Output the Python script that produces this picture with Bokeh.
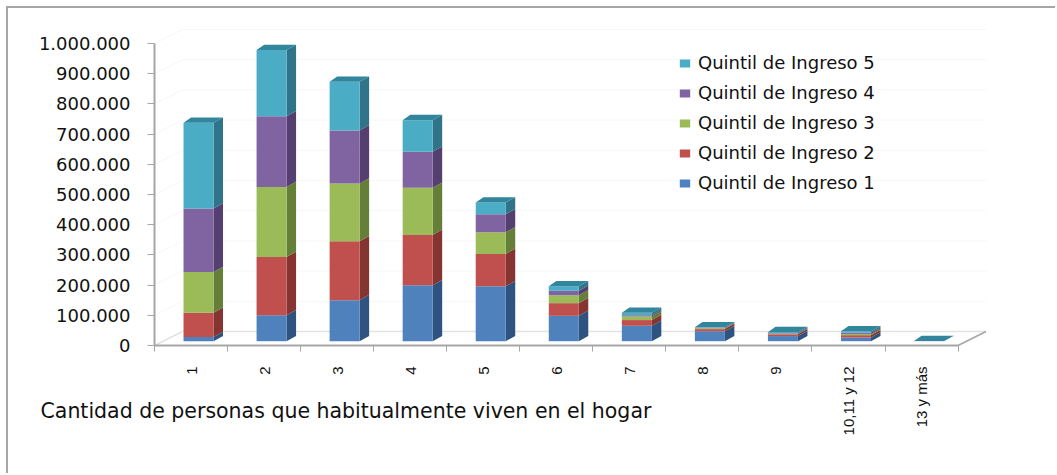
from math import pi
from bokeh.embed import file_html
from bokeh.resources import INLINE
from bokeh.plotting import figure
from bokeh.models import (Range1d, FixedTicker, Legend, LegendItem, Label, LinearAxis)

categories = ["1", "2", "3", "4", "5", "6", "7", "8", "9", "10,11 y 12", "13 y más"]
quintil_1 = [14000, 86000, 136000, 185000, 182000, 84000, 51000, 33000, 17000, 12000, 300]
quintil_2 = [80000, 193000, 195000, 167000, 107000, 42000, 19000, 7000, 6000, 8000, 200]
quintil_3 = [135000, 232000, 191000, 156000, 72000, 26000, 12000, 3000, 1000, 4000, 100]
quintil_4 = [210000, 234000, 176000, 119000, 59000, 15000, 4000, 2000, 2000, 4000, 100]
quintil_5 = [284000, 219000, 161000, 105000, 39000, 15000, 8000, 1000, 4000, 5000, 100]
series_names = ["Quintil de Ingreso 1", "Quintil de Ingreso 2", "Quintil de Ingreso 3",
                "Quintil de Ingreso 4", "Quintil de Ingreso 5"]
series = [quintil_1, quintil_2, quintil_3, quintil_4, quintil_5]
front_colors = ["#4F81BD", "#C0504D", "#9BBB59", "#8064A2", "#4BACC6"]
side_colors = ["#2F5380", "#863432", "#667F38", "#543F70", "#2F7489"]
top_color = "#31859C"
y_ticks = list(range(0, 1000001, 100000))
y_labels = ["0", "100.000", "200.000", "300.000", "400.000", "500.000",
            "600.000", "700.000", "800.000", "900.000", "1.000.000"]

PX_X = 1 / 73.05       # data units per horizontal pixel
PX_Y = 100000 / 30.2   # data units per vertical pixel
BAR_W = 30 * PX_X
BAR_OFF = 7.5 * PX_X
BAR_BASE = 4.3 * PX_Y
BAR_DX = 9.5 * PX_X
BAR_DY = 5.3 * PX_Y
WALL_DX = 28 * PX_X
WALL_DY = 14 * PX_Y
N = len(categories)

p = figure(width=1049, height=467, output_backend="svg", toolbar_location=None,
           x_range=Range1d(-146 * PX_X, 903 * PX_X), y_range=Range1d(-130 * PX_Y, 337 * PX_Y),
           x_axis_type=None, y_axis_type=None,
           min_border=0,
           outline_line_color=None, background_fill_color="white", border_fill_color="white",
           styles={"position": "absolute", "left": "6px", "top": "6px",
                   "border-left": "2px solid #a6a6a6", "border-top": "2px solid #a6a6a6"})
p.grid.visible = False

# faint walls and floor of the 3D box
wall_x, wall_y = [], []
for t in y_ticks[1:]:
    wall_x += [[0, WALL_DX], [WALL_DX, N + WALL_DX]]
    wall_y += [[t, t + WALL_DY], [t + WALL_DY, t + WALL_DY]]
p.multi_line(wall_x, wall_y, line_color="#f7f7f7", line_width=1)
p.multi_line([[0, WALL_DX], [WALL_DX, N + WALL_DX]], [[0, WALL_DY], [WALL_DY, WALL_DY]],
             line_color="#e2e2e2", line_width=1.5)
p.line([N, N + WALL_DX], [0, WALL_DY], line_color="#a6a6a6", line_width=1.5)

legend_items = []
bottoms = [BAR_BASE] * N
for vals, name, fc, sc in zip(series, series_names, front_colors, side_colors):
    tops = [b + v for b, v in zip(bottoms, vals)]
    xc = [i + 0.5 + BAR_OFF for i in range(N)]
    side_x = [[c + BAR_W / 2, c + BAR_W / 2 + BAR_DX, c + BAR_W / 2 + BAR_DX, c + BAR_W / 2] for c in xc]
    side_y = [[b, b + BAR_DY, t + BAR_DY, t] for b, t in zip(bottoms, tops)]
    p.patches(side_x, side_y, fill_color=sc, line_color=None)
    r = p.vbar(x=xc, width=BAR_W, bottom=bottoms, top=tops, fill_color=fc, line_color=None)
    legend_items.append(LegendItem(label=name, renderers=[r]))
    bottoms = tops

top_x = [[c - BAR_W / 2, c + BAR_W / 2, c + BAR_W / 2 + BAR_DX, c - BAR_W / 2 + BAR_DX * 0.8] for c in xc]
top_y = [[t, t, t + BAR_DY, t + BAR_DY] for t in bottoms]
p.patches(top_x, top_y, fill_color=top_color, line_color=None)

yaxis = LinearAxis(ticker=FixedTicker(ticks=y_ticks), fixed_location=0,
                   major_label_overrides=dict(zip(y_ticks, y_labels)),
                   bounds=(0, 1000000), axis_line_color="#a6a6a6", axis_line_width=2,
                   major_tick_line_color="#a6a6a6", major_tick_out=7, major_tick_in=0,
                   minor_tick_out=0, minor_tick_in=0, major_label_standoff=17,
                   major_label_text_font="DejaVu Sans", major_label_text_font_size="18px",
                   major_label_text_color="#111111")
p.add_layout(yaxis, "left")

centers = [i + 0.5 for i in range(N)]
xaxis = LinearAxis(ticker=FixedTicker(ticks=centers, minor_ticks=list(range(N + 1))), fixed_location=0,
                   major_label_overrides=dict(zip(centers, categories)),
                   major_label_orientation=pi / 2, bounds=(0, N),
                   axis_line_color="#a6a6a6", axis_line_width=2,
                   major_tick_out=0, major_tick_in=0,
                   minor_tick_line_color="#a6a6a6", minor_tick_out=6, minor_tick_in=0,
                   major_label_standoff=15,
                   major_label_text_font="Liberation Sans", major_label_text_font_size="15px",
                   major_label_text_color="#111111")
p.add_layout(xaxis, "below")

legend = Legend(items=list(reversed(legend_items)), location=(670, 282), padding=0, margin=0,
                spacing=9, glyph_width=13, glyph_height=10, label_height=20, label_standoff=7,
                label_text_font="DejaVu Sans", label_text_font_size="18px",
                label_text_color="#111111", background_fill_alpha=0, border_line_color=None)
p.add_layout(legend, "center")

p.add_layout(Label(x=-114 * PX_X, y=-70 * PX_Y + 5 * PX_Y,
                   text="Cantidad de personas que habitualmente viven en el hogar",
                   text_font="DejaVu Sans", text_font_size="20.5px", text_color="#111111",
                   text_baseline="alphabetic"))

open("out.html", "w").write(file_html(p, INLINE))
